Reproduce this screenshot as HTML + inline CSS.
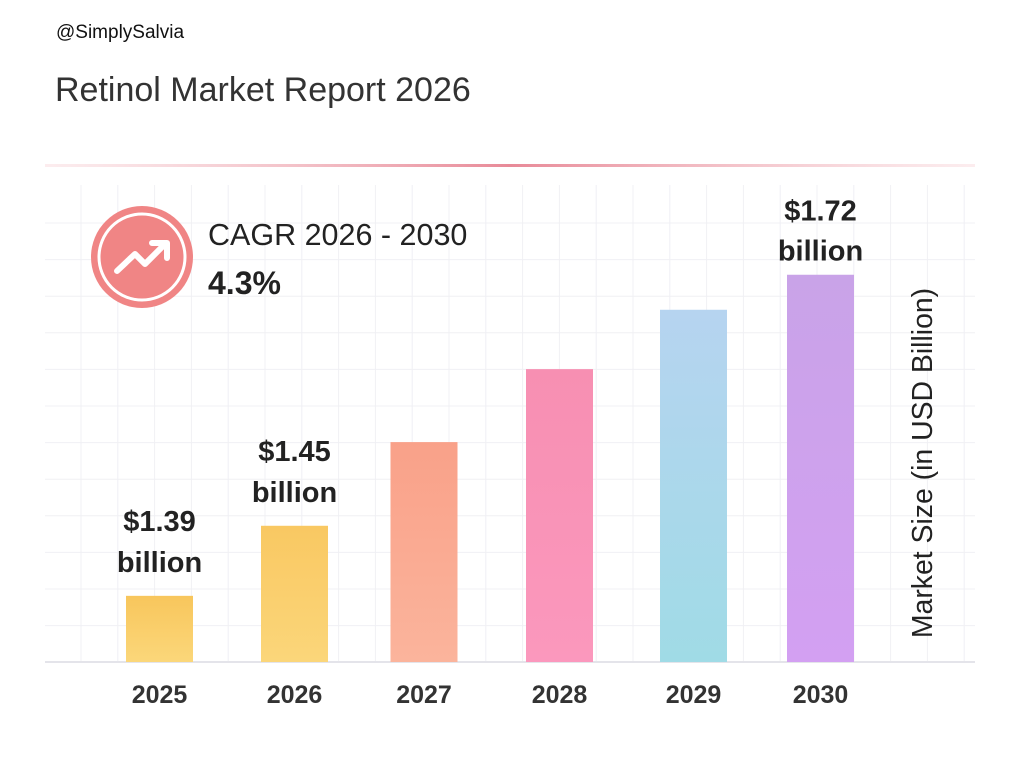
<!DOCTYPE html>
<html><head><meta charset="utf-8"><style>
body{margin:0;width:1024px;height:768px;background:#fff;font-family:"Liberation Sans",sans-serif;overflow:hidden}
</style></head><body>
<svg id="chart" width="1024" height="768" viewBox="0 0 1024 768">
<defs>
<linearGradient id="rule" x1="0" x2="1"><stop offset="0" stop-color="#f4c2c8" stop-opacity="0.3"/><stop offset="0.5" stop-color="#e88a98"/><stop offset="1" stop-color="#f4c2c8" stop-opacity="0.3"/></linearGradient>
<linearGradient id="g0" x1="0" y1="0" x2="0" y2="1"><stop offset="0" stop-color="#f8c65c"/><stop offset="1" stop-color="#fbd77a"/></linearGradient>
<linearGradient id="g1" x1="0" y1="0" x2="0" y2="1"><stop offset="0" stop-color="#f9c862"/><stop offset="1" stop-color="#fbd67a"/></linearGradient>
<linearGradient id="g2" x1="0" y1="0" x2="0" y2="1"><stop offset="0" stop-color="#f9a189"/><stop offset="1" stop-color="#fbb49c"/></linearGradient>
<linearGradient id="g3" x1="0" y1="0" x2="0" y2="1"><stop offset="0" stop-color="#f78fb2"/><stop offset="1" stop-color="#fb98bd"/></linearGradient>
<linearGradient id="g4" x1="0" y1="0" x2="0" y2="1"><stop offset="0" stop-color="#b6d4f0"/><stop offset="1" stop-color="#a0dbe6"/></linearGradient>
<linearGradient id="g5" x1="0" y1="0" x2="0" y2="1"><stop offset="0" stop-color="#c9a3e8"/><stop offset="1" stop-color="#d3a0f2"/></linearGradient>
</defs>
<text x="56" y="38" font-size="19" fill="#111">@SimplySalvia</text>
<text x="55" y="101" font-size="34" fill="#333">Retinol Market Report 2026</text>
<rect x="45" y="164" width="930" height="3" fill="url(#rule)"/>
<g id="grid"></g>
<line x1="45" y1="662" x2="975" y2="662" stroke="#e4e4ea" stroke-width="2"/>
<g id="bars"></g>
<g>
<circle cx="142" cy="257" r="51" fill="#f08585"/>
<circle cx="142" cy="257" r="43" fill="none" stroke="#fff" stroke-width="3"/>
<polyline points="117,271 135,254 145,264 165,244" fill="none" stroke="#fff" stroke-width="6" stroke-linecap="round" stroke-linejoin="round"/>
<polyline points="152,243 167,243 167,258" fill="none" stroke="#fff" stroke-width="6" stroke-linecap="round" stroke-linejoin="round"/>
</g>
<text x="208" y="245" font-size="30.5" fill="#222">CAGR 2026 - 2030</text>
<text x="208" y="294" font-size="32" font-weight="bold" fill="#222">4.3%</text>
<text transform="translate(932,463) rotate(-90)" text-anchor="middle" font-size="28.4" fill="#222">Market Size (in USD Billion)</text>
</svg>
<script>
const years = ["2025","2026","2027","2028","2029","2030"];
const values = [1.39, 1.462, 1.548, 1.623, 1.684, 1.72];
const valueLabels = ["$1.39", "$1.45", "", "", "", "$1.72"];
const NS="http://www.w3.org/2000/svg";
const baseY=662, base=1.322, scale=973;
const y=v=>baseY-(v-base)*scale;
const xc=i=>[159.5,294.5,424,559.5,693.5,820.5][i];
const grid=document.getElementById('grid');
for(let gx=81;gx<975;gx+=36.8){const l=document.createElementNS(NS,'line');l.setAttribute('x1',gx);l.setAttribute('x2',gx);l.setAttribute('y1',185);l.setAttribute('y2',662);l.setAttribute('stroke','#f0f0f4');


grid.appendChild(l);}
for(let gy=223;gy<662;gy+=36.6){const l=document.createElementNS(NS,'line');l.setAttribute('x1',45);l.setAttribute('x2',975);l.setAttribute('y1',gy);l.setAttribute('y2',gy);l.setAttribute('stroke','#f0f0f4');


grid.appendChild(l);}
const g=document.getElementById('bars');
years.forEach((yr,i)=>{
 const r=document.createElementNS(NS,'rect');
 const top=y(values[i]);
 r.setAttribute('x',xc(i)-33.5);r.setAttribute('width',67);r.setAttribute('y',top);r.setAttribute('height',baseY-top);r.setAttribute('fill','url(#g'+i+')');
 
 
 g.appendChild(r);
 const t=document.createElementNS(NS,'text');
 t.setAttribute('x',xc(i));t.setAttribute('y',703);t.setAttribute('text-anchor','middle');t.setAttribute('font-size','25');t.setAttribute('font-weight','bold');t.setAttribute('fill','#333');t.textContent=yr;
 
 
 g.appendChild(t);
 if(valueLabels[i]){
  const off = i===5 ? [54,14] : [65,24];
  [valueLabels[i],'billion'].forEach((s,k)=>{
   const v=document.createElementNS(NS,'text');
   v.setAttribute('x',xc(i));v.setAttribute('y',top-off[k]);v.setAttribute('text-anchor','middle');v.setAttribute('font-size','29');v.setAttribute('font-weight','bold');v.setAttribute('fill','#222');v.textContent=s;
   
   
   g.appendChild(v);
  });
 }
});
</script>
</body></html>
